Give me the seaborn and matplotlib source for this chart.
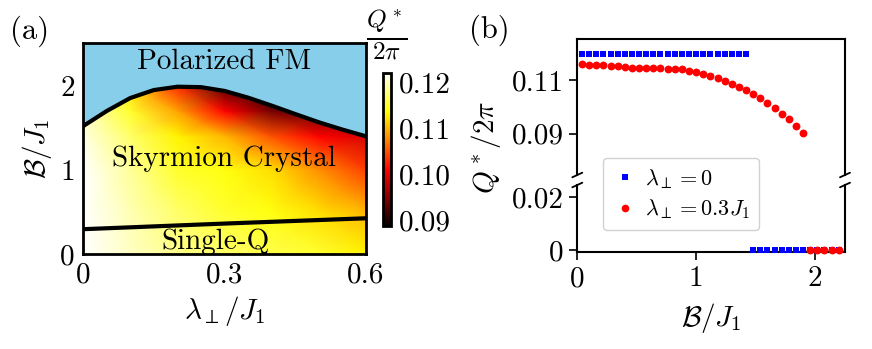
import numpy as np
import matplotlib
matplotlib.use("Agg")
import matplotlib.pyplot as plt
import seaborn as sns
import pandas as pd
from matplotlib.lines import Line2D

# ---------------- data ----------------
# panel (a): phase boundaries
lam_up = [0.00, 0.05, 0.10, 0.15, 0.20, 0.25, 0.30, 0.35, 0.40, 0.45, 0.50, 0.55, 0.60]
B_up = [1.52, 1.70, 1.855, 1.95, 1.99, 1.985, 1.94, 1.86, 1.765, 1.665, 1.567, 1.48, 1.40]
lam_low = [0.00, 0.30, 0.60]
B_low = [0.295, 0.362, 0.425]

# panel (a): Q*/2pi field read on a coarse grid
lam_grid = [0.0, 0.1, 0.2, 0.3, 0.4, 0.5, 0.6]
B_grid = [0.0, 0.5, 1.0, 1.4, 1.7, 2.0]
Q_B00 = [0.122, 0.120, 0.118, 0.117, 0.116, 0.115, 0.113]
Q_B05 = [0.122, 0.1195, 0.117, 0.115, 0.114, 0.112, 0.110]
Q_B10 = [0.122, 0.1185, 0.115, 0.114, 0.112, 0.108, 0.104]
Q_B14 = [0.121, 0.117, 0.113, 0.110, 0.105, 0.101, 0.099]
Q_B17 = [0.120, 0.115, 0.109, 0.101, 0.094, 0.093, 0.093]
Q_B20 = [0.119, 0.112, 0.103, 0.092, 0.089, 0.090, 0.091]

# panel (b)
B_blue_top = [0.04, 0.10, 0.16, 0.22, 0.28, 0.34, 0.40, 0.46, 0.52, 0.58, 0.64, 0.70,
              0.76, 0.82, 0.88, 0.94, 1.00, 1.06, 1.12, 1.18, 1.24, 1.30, 1.36, 1.42]
Q_blue_top = [0.1199] * 24
B_blue_bot = [1.48, 1.54, 1.60, 1.66, 1.72, 1.78, 1.84, 1.90, 1.96, 2.02, 2.08, 2.14, 2.20]
Q_blue_bot = [0.0] * 13
B_red_top = [0.04, 0.10, 0.16, 0.22, 0.28, 0.34, 0.40, 0.46, 0.52, 0.58, 0.64, 0.70,
             0.76, 0.82, 0.88, 0.94, 1.00, 1.06, 1.12, 1.18, 1.24, 1.30, 1.36, 1.42,
             1.48, 1.54, 1.60, 1.66, 1.72, 1.78, 1.84, 1.90]
Q_red_top = [0.1160, 0.1158, 0.1157, 0.1156, 0.1153, 0.1151, 0.1148, 0.1146,
             0.1146, 0.1146, 0.1146, 0.1145, 0.1143, 0.1141, 0.1140, 0.1135,
             0.1129, 0.1122, 0.1115, 0.1107, 0.1097, 0.1086, 0.1075, 0.1062,
             0.1048, 0.1032, 0.1016, 0.0997, 0.0975, 0.0953, 0.0929, 0.0904]
B_red_bot = [1.96, 2.02, 2.08, 2.14, 2.20]
Q_red_bot = [0.0] * 5

# ---------------- style ----------------
sns.set_theme(style="ticks")
plt.rcParams.update({
    "font.family": ["cmr10", "DejaVu Serif"],
    "mathtext.fontset": "cm",
    "axes.formatter.use_mathtext": True,
    "axes.edgecolor": "black",
    "axes.labelcolor": "black",
    "xtick.color": "black",
    "ytick.color": "black",
    "text.color": "black",
    "axes.unicode_minus": False,
})
FS = 21

W, H = 872, 349
fig = plt.figure(figsize=(W / 100, H / 100), dpi=100)

def box(l, r, t, b):
    return [l / W, (H - b) / H, (r - l) / W, (b - t) / H]

axA = fig.add_axes(box(83, 366, 43, 254))
cax = fig.add_axes(box(383, 390.5, 72.7, 225.7))
axT = fig.add_axes(box(577.3, 845, 39.3, 175))
axB = fig.add_axes(box(577.3, 845, 185, 252))

# ---------------- panel (a) ----------------
Q = np.array([Q_B00, Q_B05, Q_B10, Q_B14, Q_B17, Q_B20])
LL, BB = np.meshgrid(lam_grid, B_grid)
mesh = axA.pcolormesh(LL, BB, Q, shading="gouraud", cmap="hot",
                      vmin=0.0888, vmax=0.1220, rasterized=True)
axA.fill_between(lam_up, B_up, 2.6, color="#87CEEB", zorder=2, lw=0)
sns.lineplot(x=lam_up, y=B_up, ax=axA, color="black", lw=3, sort=False, zorder=3)
sns.lineplot(x=lam_low, y=B_low, ax=axA, color="black", lw=3, sort=False, zorder=3)
axA.set_xlim(0, 0.6)
axA.set_ylim(0, 2.51)
axA.set_xticks([0, 0.3, 0.6])
axA.set_xticklabels(["0", "0.3", "0.6"])
axA.set_yticks([0, 1, 2])
axA.set_yticklabels(["0", "1", "2"])
axA.tick_params(direction="in", length=3, width=1, labelsize=FS, pad=6)
for s in axA.spines.values():
    s.set_linewidth(2)
    s.set_zorder(5)
axA.set_xlabel(r"$\lambda_{\perp}/J_1$", fontsize=FS, labelpad=4)
axA.set_ylabel(r"$\mathcal{B}/J_1$", fontsize=FS, labelpad=4)
axA.text(0.299, 2.286, "Polarized FM", fontsize=FS, ha="center", va="center", zorder=4)
axA.text(0.299, 1.13, "Skyrmion Crystal", fontsize=FS, ha="center", va="center", zorder=4)
axA.text(0.28, 0.15, "Single-Q", fontsize=FS, ha="center", va="center", zorder=4)

cb = fig.colorbar(mesh, cax=cax)
cb.set_ticks([0.09, 0.10, 0.11, 0.12])
cb.set_ticklabels(["0.09", "0.10", "0.11", "0.12"])
cb.ax.tick_params(direction="in", length=2, width=1, labelsize=FS, pad=6)
cb.outline.set_linewidth(2)
fig.text(387 / W, 1 - 35 / H, r"$\frac{Q^*}{2\pi}$", fontsize=FS + 5, ha="center", va="center")

fig.text(30 / W, 1 - 31 / H, "(a)", fontsize=FS + 1, ha="center", va="center")
fig.text(489 / W, 1 - 30 / H, "(b)", fontsize=FS + 1, ha="center", va="center")

# ---------------- panel (b) ----------------
dfb_top = pd.DataFrame({"B": B_blue_top, "Q": Q_blue_top})
dfr_top = pd.DataFrame({"B": B_red_top, "Q": Q_red_top})
dfb_bot = pd.DataFrame({"B": B_blue_bot, "Q": Q_blue_bot})
dfr_bot = pd.DataFrame({"B": B_red_bot, "Q": Q_red_bot})

for ax, dfb, dfr in [(axT, dfb_top, dfr_top), (axB, dfb_bot, dfr_bot)]:
    sns.scatterplot(data=dfb, x="B", y="Q", ax=ax, marker="s", color="blue", s=18,
                    linewidth=0, clip_on=False, zorder=3)
    sns.scatterplot(data=dfr, x="B", y="Q", ax=ax, marker="o", color="red", s=32,
                    linewidth=0, clip_on=False, zorder=4)
    ax.set_xlim(0, 2.253)
    ax.set_xlabel("")
    ax.set_ylabel("")
    ax.tick_params(direction="out", length=6, width=1.2, labelsize=FS, pad=4)
    for s in ax.spines.values():
        s.set_linewidth(1.5)

axT.set_ylim(0.0746, 0.1252)
axT.set_yticks([0.09, 0.11])
axT.set_yticklabels(["0.09", "0.11"])
axT.set_xticks([])
axT.spines["bottom"].set_visible(False)

axB.set_ylim(-0.00076, 0.0247)
axB.set_yticks([0, 0.02])
axB.set_yticklabels(["0", "0.02"])
axB.set_xticks([0, 1, 2])
axB.set_xticklabels(["0", "1", "2"])
axB.spines["top"].set_visible(False)
axB.set_xlabel(r"$\mathcal{B}/J_1$", fontsize=FS, labelpad=6)

fig.text(486 / W, 1 - 147 / H, r"$Q^*/2\pi$", fontsize=FS, rotation=90,
         ha="center", va="center")

# break marks
for xpix in (577.3, 845):
    for ypix in (175, 185):
        fig.add_artist(Line2D([(xpix - 5) / W, (xpix + 5) / W],
                              [1 - (ypix + 2.3) / H, 1 - (ypix - 2.3) / H],
                              transform=fig.transFigure, color="black", lw=1.3))

handles = [
    Line2D([], [], marker="s", color="blue", ls="none", markersize=4.2, markeredgewidth=0),
    Line2D([], [], marker="o", color="red", ls="none", markersize=5.5, markeredgewidth=0),
]
fig.legend(handles, [r"$\lambda_{\perp}=0$", r"$\lambda_{\perp}=0.3J_1$"],
           loc="center", bbox_to_anchor=(681 / W, 1 - 194 / H), fontsize=16,
           frameon=True, handletextpad=0.3, handlelength=1.2, borderpad=0.4,
           labelspacing=0.3, edgecolor="0.8", framealpha=0.9)

fig.savefig("out.png", dpi=100)
